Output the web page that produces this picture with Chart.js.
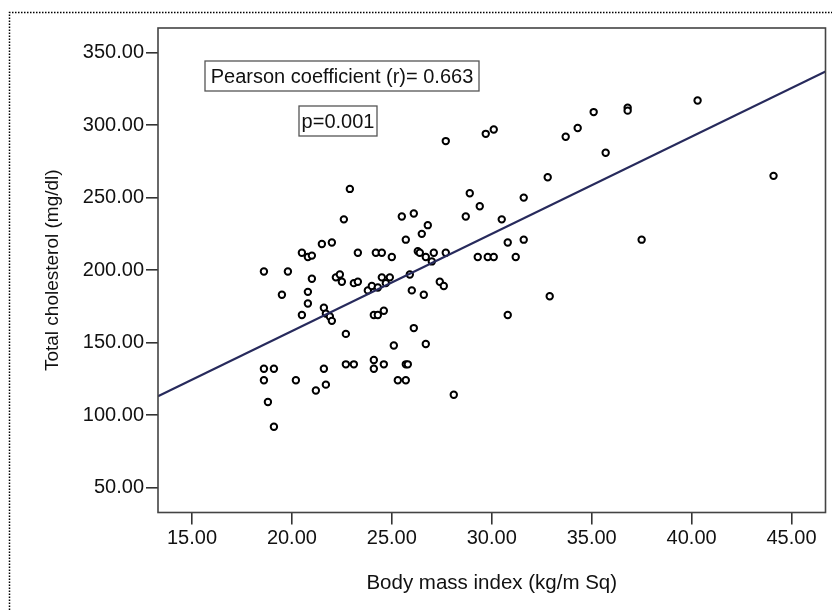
<!DOCTYPE html>
<html>
<head>
<meta charset="utf-8">
<script src="https://cdn.jsdelivr.net/npm/chart.js@4.4.1/dist/chart.umd.min.js"></script>
<style>
  html, body { margin: 0; padding: 0; background: #fff; }
  #wrap { width: 832px; height: 610px; position: relative; }
</style>
</head>
<body>
<div id="wrap"><canvas id="chart" width="832" height="610"></canvas></div>
<script>
// values
const bmi = [
    18.6, 18.6, 18.6, 18.8, 19.1, 19.1, 19.5, 19.8, 20.2, 20.5,
    20.5, 20.8, 21.0, 20.8, 20.8, 21.0, 21.2, 21.5, 21.6, 21.6,
    21.7, 21.7, 21.9, 22.0, 22.0, 22.2, 22.4, 22.5, 22.6, 22.7,
    22.7, 22.9, 23.1, 23.1, 23.3, 23.3, 23.8, 24.0, 24.1, 24.1,
    24.1, 24.2, 24.3, 24.3, 24.5, 24.5, 24.6, 24.6, 24.7, 24.9,
    25.0, 25.1, 25.3, 25.5, 25.7, 25.7, 25.8, 25.7, 25.9, 26.0,
    26.1, 26.1, 26.3, 26.4, 26.5, 26.6, 26.7, 26.7, 26.8, 27.0,
    27.1, 27.4, 27.6, 27.7, 27.7, 28.1, 28.7, 28.9, 29.3, 29.4,
    29.7, 29.8, 30.1, 30.1, 30.5, 30.8, 30.8, 31.2, 31.6, 31.6,
    32.8, 32.9, 33.7, 34.3, 35.1, 35.7, 36.8, 36.8, 37.5, 40.3, 44.1
];
const cholesterol = [
    199, 132, 124, 109, 132, 92, 183, 199, 124, 212,
    169, 209, 210, 185, 177, 194, 117, 218, 174, 132,
    121, 170, 168, 165, 219, 195, 197, 192, 235, 156,
    135, 256, 135, 191, 212, 192, 186, 189, 169, 138,
    132, 212, 188, 169, 212, 195, 172, 135, 191, 195,
    209, 148, 124, 237, 221, 135, 135, 124, 197, 186,
    239, 160, 213, 212, 225, 183, 149, 209, 231, 206,
    212, 192, 189, 212, 289, 114, 237, 253, 209, 244,
    294, 209, 209, 297, 235, 219, 169, 209, 250, 221,
    264, 182, 292, 298, 309, 281, 312, 310, 221, 317, 265
];
// fit line end points as drawn in the picture
const fitX = [13.3, 46.7];
const fitY = [113, 337];

const xTicks = [15, 20, 25, 30, 35, 40, 45];
const yTicks = [50, 100, 150, 200, 250, 300, 350];

const notes = ['Pearson coefficient (r)= 0.663', 'p=0.001'];

const points = bmi.map((x, i) => ({ x, y: cholesterol[i] }));
const fitLine = fitX.map((x, i) => ({ x, y: fitY[i] }));

const FONT = 'Liberation Sans, Arial, sans-serif';

// frame, dotted page border and the two text boxes
const decor = {
    id: 'decor',
    beforeDraw(c) {
        const ctx = c.ctx;
        ctx.save();
        ctx.strokeStyle = '#000';
        ctx.lineWidth = 1.5;
        ctx.setLineDash([1.5, 1.5]);
        ctx.beginPath();
        ctx.moveTo(9.5, 610);
        ctx.lineTo(9.5, 12.5);
        ctx.lineTo(832, 12.5);
        ctx.stroke();
        ctx.restore();
    },
    afterDraw(c) {
        const ctx = c.ctx;
        const a = c.chartArea;
        ctx.save();
        ctx.strokeStyle = '#444';
        ctx.lineWidth = 1.6;
        ctx.strokeRect(a.left, a.top, a.right - a.left, a.bottom - a.top);

        const boxes = [
            { x: 205, y: 61, w: 274, h: 30 },
            { x: 299, y: 106, w: 78, h: 30 }
        ];
        ctx.font = '20px ' + FONT;
        ctx.textBaseline = 'middle';
        ctx.textAlign = 'center';
        boxes.forEach((b, i) => {
            ctx.fillStyle = '#fff';
            ctx.fillRect(b.x, b.y, b.w, b.h);
            ctx.strokeStyle = '#555';
            ctx.lineWidth = 1.3;
            ctx.strokeRect(b.x, b.y, b.w, b.h);
            ctx.fillStyle = '#111';
            ctx.fillText(notes[i], b.x + b.w / 2, b.y + b.h / 2 + 1);
        });
        ctx.restore();
    }
};

new Chart(document.getElementById('chart'), {
    type: 'scatter',
    data: {
        datasets: [
            {
                type: 'line',
                data: fitLine,
                borderColor: '#272a5c',
                borderWidth: 2,
                pointRadius: 0,
                fill: false
            },
            {
                data: points,
                pointRadius: 3.2,
                pointBorderWidth: 2,
                pointBorderColor: '#000',
                pointBackgroundColor: '#fff'
            }
        ]
    },
    options: {
        responsive: false,
        animation: false,
        events: [],
        layout: { padding: { top: 28, right: 6.5, left: 0, bottom: 0 } },
        plugins: { legend: { display: false }, tooltip: { enabled: false } },
        scales: {
            x: {
                type: 'linear',
                min: 13.3,
                max: 46.7,
                afterBuildTicks: s => { s.ticks = xTicks.map(v => ({ value: v })); },
                afterFit: s => { s.height = 97.5; },
                border: { display: false },
                grid: { drawOnChartArea: false, drawTicks: true, tickLength: 12, tickColor: '#333', lineWidth: 1.6 },
                ticks: {
                    callback: v => v.toFixed(2),
                    color: '#111',
                    font: { family: FONT, size: 20 },
                    padding: 2,
                    maxRotation: 0,
                    autoSkip: false
                },
                title: {
                    display: true,
                    text: 'Body mass index (kg/m Sq)',
                    color: '#111',
                    font: { family: FONT, size: 20.5 },
                    padding: { top: 0, bottom: 14 }
                }
            },
            y: {
                type: 'linear',
                min: 32.8,
                max: 367,
                afterBuildTicks: s => { s.ticks = yTicks.map(v => ({ value: v })); },
                afterFit: s => { s.width = 158; },
                border: { display: false },
                grid: { drawOnChartArea: false, drawTicks: true, tickLength: 12, tickColor: '#333', lineWidth: 1.6 },
                ticks: {
                    callback: v => v.toFixed(2),
                    color: '#111',
                    font: { family: FONT, size: 20 },
                    padding: 2,
                    autoSkip: false
                },
                title: {
                    display: true,
                    text: 'Total cholesterol (mg/dl)',
                    color: '#111',
                    font: { family: FONT, size: 19 },
                    padding: { top: 41.5, bottom: 0 }
                }
            }
        }
    },
    plugins: [decor]
});
</script>
</body>
</html>
